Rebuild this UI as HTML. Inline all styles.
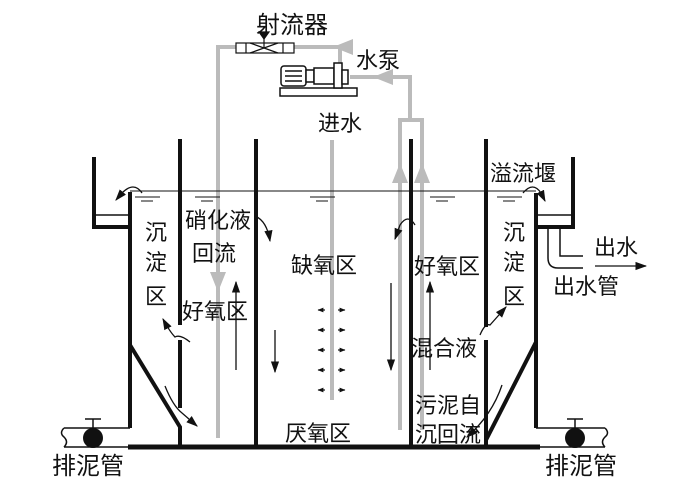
<!DOCTYPE html>
<html><head><meta charset="utf-8"><style>
body{margin:0;background:#fff}
svg text{font-family:"Liberation Sans","Noto Sans CJK SC",sans-serif;font-size:22px;fill:#111}
</style></head><body>
<svg width="700" height="490" viewBox="0 0 700 490" xmlns="http://www.w3.org/2000/svg">
<defs>
<marker id="a" viewBox="0 0 10 10" refX="9" refY="5" markerWidth="9" markerHeight="9" orient="auto"><path d="M0,1.5L10,5L0,8.5z" fill="#111"/></marker>
<marker id="g" viewBox="0 0 10 10" refX="9" refY="5" markerWidth="5" markerHeight="5" orient="auto"><path d="M0,1L10,5L0,9z" fill="#bbb"/></marker>
<marker id="s" viewBox="0 0 10 10" refX="9" refY="5" markerWidth="5" markerHeight="5" orient="auto"><path d="M0,1L10,5L0,9z" fill="#111"/></marker>
</defs>
<g stroke="#bbb" stroke-width="4" fill="none">
<polyline points="218,438 218,47 340,47 340,70"/>
<polyline points="350,77 410,77 410,118"/>
<polyline points="400,430 400,120 422,120 422,430"/>
<line x1="332" y1="140" x2="332" y2="400"/>
</g>
<path d="M218,280 v10" stroke="#bbb" stroke-width="4" marker-end="url(#g)"/>
<path d="M400,175 v-10" stroke="#bbb" stroke-width="4" marker-end="url(#g)"/>
<path d="M422,175 v-10" stroke="#bbb" stroke-width="4" marker-end="url(#g)"/>
<path d="M385,77 h-10" stroke="#bbb" stroke-width="4" marker-end="url(#g)"/>
<path d="M345,47 h-10" stroke="#bbb" stroke-width="4" marker-end="url(#g)"/>
<g stroke="#111" stroke-width="1.2" fill="#fff">
<rect x="236" y="43" width="58" height="10"/>
<line x1="246" y1="43" x2="246" y2="53"/><line x1="283" y1="43" x2="283" y2="53"/>
<path d="M250,43 L278,53 M250,53 L278,43" fill="none"/>
<line x1="264" y1="48" x2="264" y2="38"/>
<path d="M259,32 h10 l-5,7z" fill="#111"/>
</g>
<g stroke="#111" stroke-width="1.5" fill="#fff">
<rect x="280" y="88" width="77" height="8"/>
<rect x="281" y="66" width="25" height="20" rx="3"/>
<line x1="285" y1="71" x2="302" y2="71"/><line x1="285" y1="76" x2="302" y2="76"/><line x1="285" y1="81" x2="302" y2="81"/>
<rect x="306" y="70" width="8" height="12"/>
<rect x="314" y="68" width="20" height="16"/>
<rect x="334" y="63" width="8" height="25"/>
<rect x="342" y="70" width="6" height="14"/>
</g>
<g stroke="#111" stroke-width="4" fill="none">
<polyline points="94,157 94,227 130,227"/>
<polyline points="130,192 130,428"/>
<line x1="94" y1="215" x2="130" y2="215" stroke-width="1.5"/>
<polyline points="130,345 180,427 180,447"/>
<line x1="180" y1="139" x2="180" y2="325"/>
<line x1="180" y1="340" x2="180" y2="408"/>
<line x1="256" y1="139" x2="256" y2="447"/>
<line x1="411" y1="139" x2="411" y2="447"/>
<line x1="486" y1="139" x2="486" y2="327"/>
<line x1="486" y1="340" x2="486" y2="447"/>
<polyline points="536,342 486,440"/>
<line x1="536" y1="193" x2="536" y2="428"/>
<polyline points="573,157 573,227 536,227"/>
<line x1="536" y1="215" x2="573" y2="215" stroke-width="1.5"/>
<line x1="128" y1="447" x2="540" y2="447" stroke-width="5"/>
</g>
<path d="M548,227 V258 Q548,268 558,268 H583 M560,227 V256 H583" stroke="#111" stroke-width="1.5" fill="none"/>
<line x1="130" y1="191" x2="536" y2="191" stroke="#111" stroke-width="1"/>
<g stroke="#111" stroke-width="1">
<path d="M135,197h25M141,201h12M195,197h25M201,201h12M310,197h25M316,201h12M430,197h25M436,201h12M497,197h25M503,201h12"/>
</g>
<g stroke="#111" stroke-width="1.5" fill="none">
<path d="M130,428 H64 M130,447 H64 M64,428 q-5,5 0,9 q5,5 0,10"/>
<path d="M536,428 H605 M536,447 H605 M605,428 q5,5 0,9 q-5,5 0,10"/>
<path d="M93,428 V419 M85,419 H101 M575,428 V419 M567,419 H583"/>
</g>
<circle cx="93" cy="438" r="10" fill="#111"/>
<circle cx="575" cy="438" r="10" fill="#111"/>
<g stroke="#111" stroke-width="1.3" fill="none">
<line x1="236" y1="370" x2="236" y2="282" marker-end="url(#a)"/>
<line x1="430" y1="370" x2="430" y2="282" marker-end="url(#a)"/>
<line x1="275" y1="330" x2="275" y2="372" marker-end="url(#a)"/>
<line x1="391" y1="283" x2="391" y2="370" marker-end="url(#a)"/>
<line x1="595" y1="266" x2="646" y2="266" marker-end="url(#a)"/>
<path d="M142,193 q-8,-12 -20,0 l-6,7" marker-end="url(#a)"/>
<path d="M523,193 q10,-12 18,0 l4,8" marker-end="url(#a)"/>
<path d="M255,216 q12,5 15,25" marker-end="url(#a)"/>
<path d="M190,342 q-10,-8 -15,-5 q-5,-5 -12,-18" marker-end="url(#a)"/>
<path d="M165,386 q8,20 17,27 l15,13" marker-end="url(#a)"/>
<path d="M400,225 q8,-12 15,0 M400,225 l-5,14" marker-end="url(#a)"/>
<path d="M480,335 q5,-12 10,-10 l16,-18" marker-end="url(#a)"/>
<path d="M502,385 q-10,30 -35,52" marker-end="url(#a)"/>
</g>
<g stroke="#111" stroke-width="1.2">
<line x1="325" y1="310" x2="318" y2="310" marker-end="url(#s)"/><line x1="338" y1="310" x2="345" y2="310" marker-end="url(#s)"/>
<line x1="325" y1="330" x2="318" y2="330" marker-end="url(#s)"/><line x1="338" y1="330" x2="345" y2="330" marker-end="url(#s)"/>
<line x1="325" y1="350" x2="318" y2="350" marker-end="url(#s)"/><line x1="338" y1="350" x2="345" y2="350" marker-end="url(#s)"/>
<line x1="325" y1="370" x2="318" y2="370" marker-end="url(#s)"/><line x1="338" y1="370" x2="345" y2="370" marker-end="url(#s)"/>
<line x1="325" y1="390" x2="318" y2="390" marker-end="url(#s)"/><line x1="338" y1="390" x2="345" y2="390" marker-end="url(#s)"/>
</g>
<text x="256" y="33" style="font-size:24px">射流器</text>
<text x="356" y="68">水泵</text>
<text x="318" y="131">进水</text>
<text x="490" y="181">溢流堰</text>
<text x="594" y="255">出水</text>
<text x="553" y="294">出水管</text>
<text x="52" y="474" style="font-size:24px">排泥管</text>
<text x="545" y="474" style="font-size:24px">排泥管</text>
<text x="145" y="240">沉</text><text x="145" y="270">淀</text><text x="145" y="304">区</text>
<text x="503" y="240">沉</text><text x="503" y="270">淀</text><text x="503" y="304">区</text>
<text x="185" y="228">硝化液</text>
<text x="192" y="261">回流</text>
<text x="182" y="319">好氧区</text>
<text x="291" y="273">缺氧区</text>
<text x="414" y="274">好氧区</text>
<text x="411" y="356">混合液</text>
<text x="415" y="413">污泥自</text>
<text x="415" y="442">沉回流</text>
<text x="285" y="441">厌氧区</text>
</svg>
</body></html>
